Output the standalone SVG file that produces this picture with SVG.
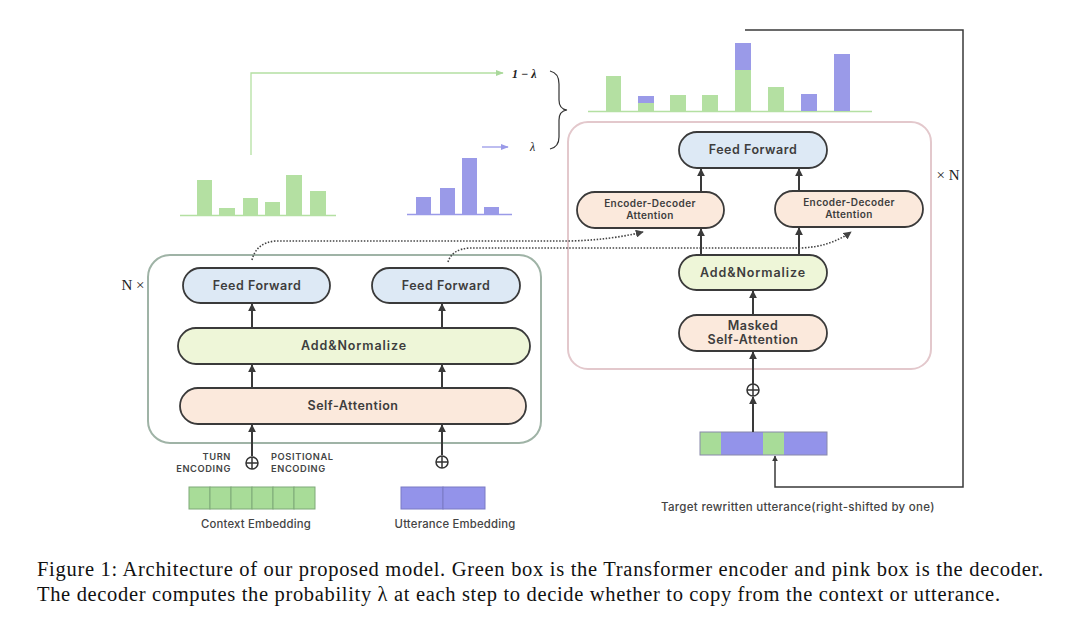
<svg xmlns="http://www.w3.org/2000/svg" width="1080" height="620" viewBox="0 0 1080 620">
<defs>
<style>
.pill{stroke:#3a3a3a;stroke-width:1.8}
.ff{fill:#dde9f5}
.an{fill:#eef6d8}
.sa{fill:#fbe9dc}
.lbl{font-family:Inter,"Liberation Sans",sans-serif;font-size:12.5px;font-weight:600;fill:#3d3d3d;text-anchor:middle;letter-spacing:0.5px}
.sm{font-family:Inter,"Liberation Sans",sans-serif;font-size:10px;font-weight:600;fill:#3d3d3d;text-anchor:middle;letter-spacing:0.4px}
.tiny{font-family:Inter,"Liberation Sans",sans-serif;font-size:9.3px;font-weight:600;fill:#444;letter-spacing:0.6px}
.emb{font-family:Inter,"Liberation Sans",sans-serif;font-size:11.3px;font-weight:500;fill:#444;text-anchor:middle;letter-spacing:0.2px}
.arr{stroke:#3a3a3a;stroke-width:2;fill:none;marker-end:url(#ah)}
.dot{stroke:#444;stroke-width:1.6;fill:none;stroke-dasharray:1.5 1.6;marker-end:url(#ahs)}
.g{fill:#b4e0a2}
.p{fill:#9a9ae8}
.math{font-family:"Liberation Serif",serif;font-size:12px;font-style:italic;fill:#222}
.cap{font-family:"Liberation Serif",serif;font-size:20.5px;fill:#111}
</style>
<marker id="ah" viewBox="0 0 10 10" refX="9" refY="5" markerWidth="4" markerHeight="4" orient="auto"><path d="M0,0L10,5L0,10z" fill="#3a3a3a"/></marker>
<marker id="ahs" viewBox="0 0 10 10" refX="9" refY="5" markerWidth="5" markerHeight="5" orient="auto"><path d="M0,0L10,5L0,10z" fill="#444"/></marker>
<marker id="ahg" viewBox="0 0 10 10" refX="9" refY="5" markerWidth="6" markerHeight="6" orient="auto"><path d="M0,1L10,5L0,9z" fill="#a9d89a"/></marker>
<marker id="ahp" viewBox="0 0 10 10" refX="9" refY="5" markerWidth="6" markerHeight="6" orient="auto"><path d="M0,1L10,5L0,9z" fill="#9a9ae8"/></marker>
</defs>
<rect width="1080" height="620" fill="#ffffff"/>

<!-- Encoder container -->
<g id="encoder">
<rect x="148" y="255" width="393" height="188" rx="22" fill="none" stroke="#9fb3a6" stroke-width="2"/>
<text x="133" y="290" font-family="Liberation Serif,serif" font-size="15" fill="#222" text-anchor="middle">N ×</text>
</g>
<g id="enc-ff1"><rect class="pill ff" x="183" y="268" width="147" height="35" rx="17.5"/><text class="lbl" x="257" y="290">Feed Forward</text></g>
<g id="enc-ff2"><rect class="pill ff" x="372" y="268" width="148" height="35" rx="17.5"/><text class="lbl" x="446" y="290">Feed Forward</text></g>
<g id="enc-an"><rect class="pill an" x="178" y="328" width="352" height="36" rx="18"/><text class="lbl" x="354" y="350" style="letter-spacing:0.9px">Add&amp;Normalize</text></g>
<g id="enc-sa"><rect class="pill sa" x="180" y="388" width="346" height="36" rx="18"/><text class="lbl" x="353" y="410">Self-Attention</text></g>

<g id="enc-inputs">
<circle cx="252" cy="463" r="6" fill="#fff" stroke="#333" stroke-width="1.5"/><path d="M246,463h12M252,457v12" stroke="#333" stroke-width="1.5"/>
<circle cx="442" cy="462" r="6" fill="#fff" stroke="#333" stroke-width="1.5"/><path d="M436,462h12M442,456v12" stroke="#333" stroke-width="1.5"/>
<text class="tiny" x="231" y="460" text-anchor="end">TURN</text>
<text class="tiny" x="231" y="472" text-anchor="end">ENCODING</text>
<text class="tiny" x="271" y="460">POSITIONAL</text>
<text class="tiny" x="271" y="472">ENCODING</text>
</g>
<g id="context-emb">
<g fill="#a8dc98" stroke="#7fa978" stroke-width="1">
<rect x="189" y="487" width="21" height="22"/><rect x="210" y="487" width="21" height="22"/><rect x="231" y="487" width="21" height="22"/><rect x="252" y="487" width="21" height="22"/><rect x="273" y="487" width="21" height="22"/><rect x="294" y="487" width="21" height="22"/>
</g>
<text class="emb" x="256" y="528">Context Embedding</text>
</g>
<g id="utterance-emb">
<g fill="#9393ea" stroke="#7a7ac4" stroke-width="1">
<rect x="401" y="487" width="42" height="22"/><rect x="443" y="487" width="42" height="22"/>
</g>
<text class="emb" x="455" y="528">Utterance Embedding</text>
</g>

<!-- Distributions -->
<g id="context-dist">
<line x1="180" y1="215.5" x2="336" y2="215.5" stroke="#b4e0a2" stroke-width="1.5"/>
<rect class="g" x="197" y="180" width="15" height="35"/>
<rect class="g" x="219" y="208" width="16" height="7"/>
<rect class="g" x="243" y="198" width="15" height="17"/>
<rect class="g" x="265" y="202" width="15" height="13"/>
<rect class="g" x="286" y="175" width="16" height="40"/>
<rect class="g" x="310" y="191" width="16" height="24"/>
</g>
<g id="utterance-dist">
<line x1="407" y1="214.5" x2="512" y2="214.5" stroke="#9a9ae8" stroke-width="1.5"/>
<rect class="p" x="416" y="197" width="15" height="17"/>
<rect class="p" x="440" y="188" width="15" height="26"/>
<rect class="p" x="462" y="158" width="15" height="56"/>
<rect class="p" x="484" y="207" width="15" height="7"/>
</g>
<g id="output-dist">
<line x1="588" y1="111.5" x2="872" y2="111.5" stroke="#b4e0a2" stroke-width="1.5"/>
<rect class="g" x="606" y="76" width="15" height="35"/>
<rect class="g" x="638" y="103" width="16" height="8"/><rect class="p" x="638" y="96" width="16" height="7"/>
<rect class="g" x="670" y="95" width="16" height="16"/>
<rect class="g" x="702" y="95" width="16" height="16"/>
<rect class="g" x="735" y="70" width="16" height="41"/><rect class="p" x="735" y="43" width="16" height="27"/>
<rect class="g" x="768" y="87" width="16" height="24"/>
<rect class="p" x="801" y="94" width="16" height="17"/>
<rect class="p" x="834" y="54" width="16" height="57"/>
</g>
<g id="mixing">
<path d="M251,155V73H503" stroke="#b4e0a2" stroke-width="1.3" fill="none" marker-end="url(#ahg)"/>
<path d="M482,147H508" stroke="#9a9ae8" stroke-width="1.3" fill="none" marker-end="url(#ahp)"/>
<text class="math" x="512" y="78" font-style="normal" font-weight="bold">1 − <tspan font-style="italic">λ</tspan></text>
<text class="math" x="530" y="151">λ</text>
<path d="M550,71 Q559,73 559,84 V100 Q559,109 567,110 Q559,111 559,120 V137 Q559,147 550,149" stroke="#333" stroke-width="1.2" fill="none"/>
</g>

<!-- Decoder container -->
<g id="decoder">
<rect x="568" y="122" width="363" height="247" rx="20" fill="none" stroke="#e3c8cc" stroke-width="2"/>
<text x="948" y="180" font-family="Liberation Serif,serif" font-size="15" fill="#222" text-anchor="middle">× N</text>
</g>
<g id="dec-ff"><rect class="pill ff" x="679" y="132" width="148" height="36" rx="18"/><text class="lbl" x="753" y="154">Feed Forward</text></g>
<g id="dec-eda1"><rect class="pill sa" x="577" y="192" width="147" height="36" rx="18"/><text class="sm" x="650" y="207">Encoder-Decoder</text><text class="sm" x="650" y="219">Attention</text></g>
<g id="dec-eda2"><rect class="pill sa" x="775" y="191" width="148" height="36" rx="18"/><text class="sm" x="849" y="206">Encoder-Decoder</text><text class="sm" x="849" y="218">Attention</text></g>
<g id="dec-an"><rect class="pill an" x="679" y="255" width="148" height="35" rx="17.5"/><text class="lbl" x="753" y="277" style="letter-spacing:0.9px">Add&amp;Normalize</text></g>
<g id="dec-msa"><rect class="pill sa" x="679" y="315" width="148" height="36" rx="18"/><text class="lbl" x="753" y="330">Masked</text><text class="lbl" x="753" y="344">Self-Attention</text></g>
<g id="dec-input">
<circle cx="753" cy="390" r="6" fill="#fff" stroke="#333" stroke-width="1.5"/><path d="M747,390h12M753,384v12" stroke="#333" stroke-width="1.5"/>
</g>
<g id="target-emb">
<rect x="700" y="432" width="21" height="23" fill="#a8dc98"/>
<rect x="721" y="432" width="21" height="23" fill="#9393ea"/>
<rect x="742" y="432" width="21" height="23" fill="#9393ea"/>
<rect x="763" y="432" width="21" height="23" fill="#a8dc98"/>
<rect x="784" y="432" width="22" height="23" fill="#9393ea"/>
<rect x="806" y="432" width="21" height="23" fill="#9393ea"/>
<rect x="700" y="432" width="127" height="23" fill="none" stroke="#8888aa" stroke-width="1"/>
<text x="661" y="511" font-family="Inter,'Liberation Sans',sans-serif" font-size="11.5" font-weight="500" fill="#444" letter-spacing="0.3">Target rewritten utterance(right-shifted by one)</text>
</g>

<!-- Connectors -->
<g id="connectors">
<line class="arr" x1="252" y1="388" x2="252" y2="365"/>
<line class="arr" x1="442" y1="388" x2="442" y2="365"/>
<line class="arr" x1="252" y1="328" x2="252" y2="304"/>
<line class="arr" x1="442" y1="328" x2="442" y2="304"/>
<line class="arr" x1="252" y1="456" x2="252" y2="425"/>
<line class="arr" x1="442" y1="455" x2="442" y2="425"/>
<line class="arr" x1="753" y1="315" x2="753" y2="291"/>
<line class="arr" x1="701" y1="255" x2="701" y2="229"/>
<line class="arr" x1="799" y1="255" x2="799" y2="228"/>
<line class="arr" x1="701" y1="192" x2="701" y2="169"/>
<line class="arr" x1="799" y1="191" x2="799" y2="169"/>
<line class="arr" x1="753" y1="384" x2="753" y2="352"/>
<line class="arr" x1="753" y1="432" x2="753" y2="397"/>
<path d="M745,30H963V487H775V456" stroke="#3a3a3a" stroke-width="1.5" fill="none" marker-end="url(#ah)"/>
<path class="dot" d="M252,260 Q256,243 275,241 H570 Q610,240 643,232"/>
<path class="dot" d="M448,262 Q452,249 470,248 H800 Q830,247 851,232"/>
</g>

<!-- Caption -->
<text class="cap" x="37" y="576" textLength="1006" lengthAdjust="spacing">Figure 1: Architecture of our proposed model. Green box is the Transformer encoder and pink box is the decoder.</text>
<text class="cap" x="37" y="601" textLength="963" lengthAdjust="spacing">The decoder computes the probability λ at each step to decide whether to copy from the context or utterance.</text>
</svg>
